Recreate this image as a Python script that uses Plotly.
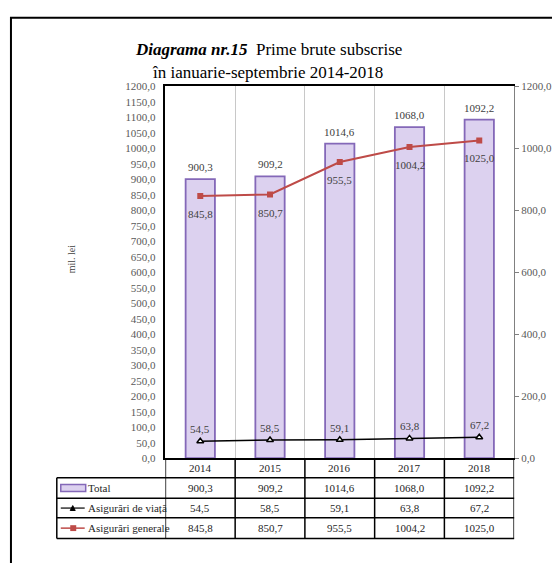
import plotly.graph_objects as go

years = [2014, 2015, 2016, 2017, 2018]
total = [900.3, 909.2, 1014.6, 1068.0, 1092.2]
viata = [54.5, 58.5, 59.1, 63.8, 67.2]
generale = [845.8, 850.7, 955.5, 1004.2, 1025.0]
series_names = ["Total", "Asigurări de viață", "Asigurări generale"]
title1_bold = "Diagrama nr.15"
title1_rest = "Prime brute subscrise"
title2 = "în ianuarie-septembrie 2014-2018"
y_title = "mil. lei"

W, H = 552, 563
FONT = "Liberation Serif"
BAR_FILL = "#dcd1ef"
BAR_LINE = "#8468b8"
RED = "#be4b48"

def px(x):
    return x / W

def py(y):
    return 1 - y / H

def fmt(v):
    return f"{v:.1f}".replace(".", ",")

fig = go.Figure()
fig.add_trace(go.Bar(x=years, y=total, width=0.42, name=series_names[0],
                     marker=dict(color=BAR_FILL, line=dict(color=BAR_LINE, width=1.8)),
                     showlegend=False))
fig.add_trace(go.Scatter(x=years, y=viata, mode="lines+markers", name=series_names[1],
                         line=dict(color="black", width=1.5),
                         marker=dict(symbol="triangle-up", size=6, color="white",
                                     line=dict(color="black", width=1.5)),
                         showlegend=False))
fig.add_trace(go.Scatter(x=years, y=generale, mode="lines+markers", name=series_names[2],
                         line=dict(color=RED, width=2),
                         marker=dict(symbol="square", size=6, color=RED),
                         showlegend=False))
fig.add_trace(go.Scatter(x=years, y=total, yaxis="y2", mode="none", showlegend=False,
                         hoverinfo="skip"))

ann = []
lab_font = dict(family=FONT, size=11, color="#404040")
for yr, t, v, g in zip(years, total, viata, generale):
    ann.append(dict(x=yr, y=t, xref="x", yref="y", text=fmt(t), showarrow=False,
                    xanchor="center", yanchor="bottom", yshift=4, font=lab_font))
    ann.append(dict(x=yr, y=g, xref="x", yref="y", text=fmt(g), showarrow=False,
                    xanchor="center", yanchor="top", yshift=-10, font=lab_font))
    ann.append(dict(x=yr, y=v, xref="x", yref="y", text=fmt(v), showarrow=False,
                    xanchor="center", yanchor="bottom", yshift=4, font=lab_font))

ann.append(dict(x=px(269), y=py(44), xref="paper", yref="paper", showarrow=False,
                xanchor="center", yanchor="middle",
                text=f"<b><i>{title1_bold}</i></b>  {title1_rest}",
                font=dict(family=FONT, size=17, color="black")))
ann.append(dict(x=px(268), y=py(68), xref="paper", yref="paper", showarrow=False,
                xanchor="center", yanchor="middle",
                text=title2, font=dict(family=FONT, size=17, color="black")))
ann.append(dict(x=px(72), y=py(258), xref="paper", yref="paper", showarrow=False,
                xanchor="center", yanchor="middle",
                text=y_title, textangle=-90, font=dict(family=FONT, size=10, color="#404040")))

tab_font = dict(family=FONT, size=11, color="#262626")
row_centers = [472, 492.5, 513, 533.5]
rows = [total, viata, generale]
for yr in years:
    ann.append(dict(x=yr, y=py(row_centers[0]), xref="x", yref="paper", text=str(yr),
                    xanchor="center", yanchor="middle", showarrow=False, font=tab_font))
for r, vals in enumerate(rows):
    for yr, v in zip(years, vals):
        ann.append(dict(x=yr, y=py(row_centers[r + 1]), xref="x", yref="paper", text=fmt(v),
                        xanchor="center", yanchor="middle", showarrow=False, font=tab_font))
    ann.append(dict(x=px(86), y=py(row_centers[r + 1]), xref="paper", yref="paper",
                    text=series_names[r], showarrow=False, xanchor="left", yanchor="middle",
                    font=tab_font))

shapes = []
line_k = dict(color="black", width=1.5)
for yv in [482, 503, 523, 544]:
    shapes.append(dict(type="line", xref="paper", yref="paper", x0=px(57), x1=px(516),
                       y0=py(yv), y1=py(yv), line=line_k))
shapes.append(dict(type="line", xref="paper", yref="paper", x0=px(57), x1=px(57),
                   y0=py(482), y1=py(544), line=line_k))
for k in range(6):
    xv = years[0] - 0.5 + k
    shapes.append(dict(type="line", xref="x", yref="paper", x0=xv, x1=xv,
                       y0=py(462), y1=py(544), line=line_k))
shapes.append(dict(type="rect", xref="paper", yref="paper", x0=px(61), x1=px(86),
                   y0=py(496), y1=py(489), fillcolor=BAR_FILL, line=dict(color=BAR_LINE, width=1.5)))
shapes.append(dict(type="line", xref="paper", yref="paper", x0=px(61), x1=px(85),
                   y0=py(513), y1=py(513), line=dict(color="black", width=1.2)))
shapes.append(dict(type="path", xref="paper", yref="paper",
                   path=f"M {px(70.5)} {py(515.5)} L {px(75.5)} {py(515.5)} L {px(73)} {py(510.5)} Z",
                   fillcolor="black", line=dict(color="black", width=1)))
shapes.append(dict(type="line", xref="paper", yref="paper", x0=px(61), x1=px(85),
                   y0=py(533.5), y1=py(533.5), line=dict(color=RED, width=1.5)))
shapes.append(dict(type="rect", xref="paper", yref="paper", x0=px(70.5), x1=px(76.5),
                   y0=py(536.5), y1=py(530.5), fillcolor=RED, line=dict(color=RED, width=0)))
shapes.append(dict(type="rect", xref="paper", yref="paper", x0=px(11), x1=px(565),
                   y0=py(575), y1=py(12), line=dict(color="black", width=2)))

tick_font = dict(family=FONT, size=11, color="#595959")
fig.update_layout(
    width=W, height=H, margin=dict(l=0, r=0, t=0, b=0),
    paper_bgcolor="white", plot_bgcolor="white",
    separators=", ",
    xaxis=dict(domain=[px(166), px(516)], range=[years[0] - 0.5, years[-1] + 0.5],
               tickmode="array", tickvals=[y + 0.5 for y in years[:-1]],
               showticklabels=False, ticks="", showgrid=True, gridcolor="#c8c8c8",
               gridwidth=1, zeroline=False, showline=True, linecolor="black",
               linewidth=2, mirror=True),
    yaxis=dict(domain=[py(462), py(82)], range=[0, 1200], dtick=50, tickformat=".1f",
               showgrid=False, zeroline=False, showline=True, linecolor="black",
               linewidth=1.5, ticks="", tickfont=tick_font, ticklabelstandoff=6),
    yaxis2=dict(overlaying="y", side="right", range=[0, 1200], dtick=200,
                tickformat=".1f", showgrid=False, zeroline=False, showline=True,
                linecolor="#808080", linewidth=1, ticks="outside", ticklen=4,
                tickcolor="#808080", tickfont=tick_font),
    annotations=ann, shapes=shapes, bargap=0.58, hovermode=False,
)
fig.write_html("out.html", config={"displayModeBar": False},
               post_script="document.body.style.margin='0';document.body.style.overflow='hidden';")
